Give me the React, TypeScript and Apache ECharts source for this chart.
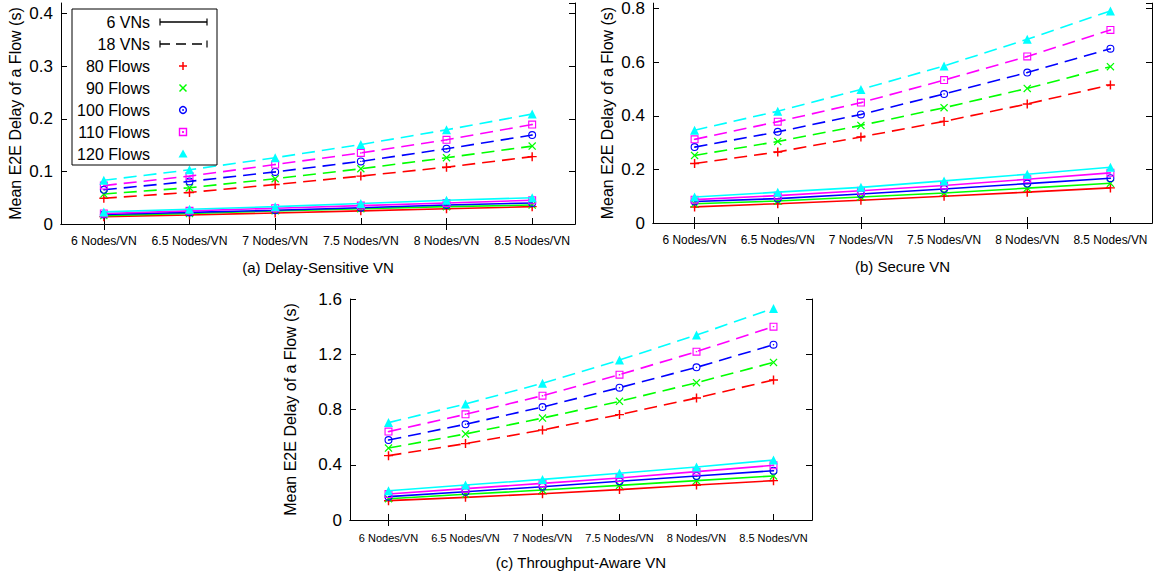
import React, { useEffect, useRef } from "react";
import * as echarts from "echarts";

const categories = ["6 Nodes/VN", "6.5 Nodes/VN", "7 Nodes/VN", "7.5 Nodes/VN", "8 Nodes/VN", "8.5 Nodes/VN"];
const flowNames = ["80 Flows", "90 Flows", "100 Flows", "110 Flows", "120 Flows"];
const vnNames = ["6 VNs", "18 VNs"];
const panelTitles = ["(a) Delay-Sensitive VN", "(b) Secure VN", "(c) Throughput-Aware VN"];
const yAxisTitle = "Mean E2E Delay of a Flow (s)";
const yMax = [0.42, 0.82, 1.6];
const yInterval = [0.1, 0.2, 0.4];

// (a) Delay-Sensitive VN
const delaySensitive6 = [
  [0.014, 0.017, 0.021, 0.025, 0.029, 0.033],
  [0.016, 0.020, 0.025, 0.029, 0.033, 0.036],
  [0.018, 0.022, 0.026, 0.031, 0.036, 0.040],
  [0.020, 0.025, 0.030, 0.035, 0.040, 0.045],
  [0.023, 0.028, 0.033, 0.039, 0.045, 0.050],
];
const delaySensitive18 = [
  [0.049, 0.060, 0.075, 0.091, 0.108, 0.128],
  [0.057, 0.069, 0.086, 0.105, 0.126, 0.148],
  [0.065, 0.081, 0.099, 0.119, 0.143, 0.169],
  [0.073, 0.091, 0.113, 0.135, 0.160, 0.189],
  [0.083, 0.103, 0.126, 0.151, 0.179, 0.209],
];
// (b) Secure VN
const secure6 = [
  [0.060, 0.072, 0.085, 0.100, 0.115, 0.131],
  [0.072, 0.082, 0.097, 0.112, 0.130, 0.148],
  [0.080, 0.091, 0.108, 0.127, 0.147, 0.167],
  [0.087, 0.102, 0.120, 0.140, 0.163, 0.187],
  [0.097, 0.115, 0.133, 0.157, 0.182, 0.208],
];
const secure18 = [
  [0.222, 0.265, 0.321, 0.379, 0.444, 0.515],
  [0.252, 0.304, 0.364, 0.430, 0.502, 0.583],
  [0.283, 0.340, 0.405, 0.481, 0.561, 0.650],
  [0.312, 0.378, 0.449, 0.533, 0.621, 0.720],
  [0.346, 0.417, 0.498, 0.586, 0.685, 0.791],
];
// (c) Throughput-Aware VN
const throughput6 = [
  [0.140, 0.164, 0.190, 0.220, 0.253, 0.285],
  [0.154, 0.186, 0.217, 0.251, 0.285, 0.319],
  [0.169, 0.205, 0.241, 0.280, 0.319, 0.357],
  [0.188, 0.227, 0.265, 0.304, 0.350, 0.396],
  [0.212, 0.253, 0.294, 0.338, 0.384, 0.434],
];
const throughput18 = [
  [0.466, 0.553, 0.652, 0.763, 0.883, 1.014],
  [0.521, 0.623, 0.738, 0.859, 0.994, 1.141],
  [0.579, 0.693, 0.818, 0.958, 1.105, 1.269],
  [0.640, 0.765, 0.900, 1.052, 1.219, 1.400],
  [0.705, 0.840, 0.990, 1.158, 1.339, 1.532],
];

const panels = [
  [delaySensitive6, delaySensitive18],
  [secure6, secure18],
  [throughput6, throughput18],
];

const colors = ["#ff0000", "#00ff00", "#0000ff", "#ff00ff", "#00ffff"];
const symbols = [
  "path://M4.2,0H5.8V4.2H10V5.8H5.8V10H4.2V5.8H0V4.2H4.2Z",
  "path://M1.1,0L5,3.9L8.9,0L10,1.1L6.1,5L10,8.9L8.9,10L5,6.1L1.1,10L0,8.9L3.9,5L0,1.1Z",
  "path://M5,0A5,5 0 1,1 5,10A5,5 0 1,1 5,0Z M5,1.4A3.6,3.6 0 1,0 5,8.6A3.6,3.6 0 1,0 5,1.4Z M5,4.1A0.9,0.9 0 1,1 5,5.9A0.9,0.9 0 1,1 5,4.1Z",
  "path://M0,0H10V10H0Z M1.4,1.4V8.6H8.6V1.4Z M4.1,4.1H5.9V5.9H4.1Z",
  "triangle",
];
const symbolSizes = [9, 8, 8, 8, 9];

const FONT = "'Liberation Sans', Arial, Helvetica, sans-serif";

const grids = [
  { left: 61, top: 3, width: 514, height: 221 },
  { left: 653, top: 3, width: 499, height: 220 },
  { left: 350, top: 299, width: 462, height: 221 },
];
const yNameGap = [38, 38, 52];
const xNameGap = [36, 36, 35];
const xLabelSize = [12.2, 11.9, 11];
const xLabelMargin = [11, 11, 12];

export default function App() {
  const ref = useRef<HTMLDivElement>(null);
  useEffect(() => {
    if (!ref.current) return;
    const chart = echarts.init(ref.current, null, { renderer: "svg" });

    const xAxes: any[] = [];
    const yAxes: any[] = [];
    for (let p = 0; p < 3; p++) {
      xAxes.push({
        type: "category",
        gridIndex: p,
        data: categories,
        boundaryGap: true,
        position: "bottom",
        name: panelTitles[p],
        nameLocation: "middle",
        nameGap: xNameGap[p],
        nameTextStyle: { fontFamily: FONT, fontSize: 15, color: "#000" },
        axisLine: { show: true, lineStyle: { color: "#000", width: 1 } },
        axisTick: { show: true, inside: true, alignWithLabel: true, length: 6, lineStyle: { color: "#000" } },
        axisLabel: { interval: 0, fontFamily: FONT, fontSize: xLabelSize[p], color: "#000", margin: xLabelMargin[p] },
        splitLine: { show: false },
      });
      yAxes.push({
        type: "value",
        gridIndex: p,
        min: 0,
        max: yMax[p],
        interval: yInterval[p],
        position: "left",
        name: yAxisTitle,
        nameLocation: "middle",
        nameGap: yNameGap[p],
        nameRotate: 90,
        nameTextStyle: { fontFamily: FONT, fontSize: 16, color: "#000" },
        axisLine: { show: true, lineStyle: { color: "#000", width: 1 } },
        axisTick: { show: true, inside: true, length: 6, lineStyle: { color: "#000" } },
        axisLabel: { fontFamily: FONT, fontSize: 17, color: "#000", margin: 8, showMaxLabel: p === 2 },
        splitLine: { show: false },
      });
    }
    for (let p = 0; p < 3; p++) {
      xAxes.push({
        type: "category",
        gridIndex: p,
        data: categories,
        boundaryGap: true,
        position: "top",
        axisLine: { show: true, lineStyle: { color: "#000", width: 1 } },
        axisTick: { show: true, inside: true, alignWithLabel: true, length: 6, lineStyle: { color: "#000" } },
        axisLabel: { show: false },
        splitLine: { show: false },
      });
      yAxes.push({
        type: "value",
        gridIndex: p,
        min: 0,
        max: yMax[p],
        interval: yInterval[p],
        position: "right",
        axisLine: { show: true, lineStyle: { color: "#000", width: 1 } },
        axisTick: { show: true, inside: true, length: 6, lineStyle: { color: "#000" } },
        axisLabel: { show: false },
        splitLine: { show: false },
      });
    }

    const series: any[] = [];
    for (let p = 0; p < 3; p++) {
      for (let v = 1; v >= 0; v--) {
        for (let f = 0; f < 5; f++) {
          series.push({
            type: "line",
            name: `${vnNames[v]} ${flowNames[f]}`,
            xAxisIndex: p,
            yAxisIndex: p,
            data: panels[p][v][f],
            symbol: symbols[f],
            symbolSize: symbolSizes[f],
            showSymbol: true,
            lineStyle: { color: colors[f], width: 1.6, type: v === 1 ? [13, 7] : "solid" },
            itemStyle: { color: colors[f], borderWidth: 0 },
            z: 2 + f,
          });
        }
      }
    }

    // Legend (drawn as graphic)
    const lx = 72, ly = 9, lw = 145, lh = 156;
    const rowY = [22, 44, 66, 88, 110, 132, 154];
    const textX = 150;
    const markX = 183;
    const legendEls: any[] = [
      { type: "rect", shape: { x: lx, y: ly, width: lw, height: lh }, style: { fill: "#fff", stroke: "#000", lineWidth: 1 }, z: 100 },
    ];
    const labels = [...vnNames, ...flowNames];
    labels.forEach((t, i) => {
      legendEls.push({
        type: "text",
        x: textX,
        y: rowY[i],
        style: { text: t, fontFamily: FONT, fontSize: 16, fill: "#000", align: "right", verticalAlign: "middle" },
        z: 101,
      });
    });
    for (let v = 0; v < 2; v++) {
      const y = rowY[v];
      legendEls.push({
        type: "line",
        shape: { x1: 160, y1: y, x2: 207, y2: y },
        style: { stroke: "#000", lineWidth: 1.5, lineDash: v === 1 ? [10, 6] : null },
        z: 101,
      });
      legendEls.push({ type: "line", shape: { x1: 160, y1: y - 3.5, x2: 160, y2: y + 3.5 }, style: { stroke: "#000", lineWidth: 1.2 }, z: 101 });
      legendEls.push({ type: "line", shape: { x1: 207, y1: y - 3.5, x2: 207, y2: y + 3.5 }, style: { stroke: "#000", lineWidth: 1.2 }, z: 101 });
    }
    // markers
    const cy = (i: number) => rowY[i + 2];
    legendEls.push({ type: "line", shape: { x1: markX - 4, y1: cy(0), x2: markX + 4, y2: cy(0) }, style: { stroke: colors[0], lineWidth: 1.5 }, z: 101 });
    legendEls.push({ type: "line", shape: { x1: markX, y1: cy(0) - 4, x2: markX, y2: cy(0) + 4 }, style: { stroke: colors[0], lineWidth: 1.5 }, z: 101 });
    legendEls.push({ type: "line", shape: { x1: markX - 3.5, y1: cy(1) - 3.5, x2: markX + 3.5, y2: cy(1) + 3.5 }, style: { stroke: colors[1], lineWidth: 1.5 }, z: 101 });
    legendEls.push({ type: "line", shape: { x1: markX - 3.5, y1: cy(1) + 3.5, x2: markX + 3.5, y2: cy(1) - 3.5 }, style: { stroke: colors[1], lineWidth: 1.5 }, z: 101 });
    legendEls.push({ type: "circle", shape: { cx: markX, cy: cy(2), r: 3.4 }, style: { fill: "none", stroke: colors[2], lineWidth: 1.4 }, z: 101 });
    legendEls.push({ type: "circle", shape: { cx: markX, cy: cy(2), r: 0.9 }, style: { fill: colors[2] }, z: 101 });
    legendEls.push({ type: "rect", shape: { x: markX - 3.5, y: cy(3) - 3.5, width: 7, height: 7 }, style: { fill: "none", stroke: colors[3], lineWidth: 1.4 }, z: 101 });
    legendEls.push({ type: "rect", shape: { x: markX - 0.9, y: cy(3) - 0.9, width: 1.8, height: 1.8 }, style: { fill: colors[3] }, z: 101 });
    legendEls.push({
      type: "polygon",
      shape: { points: [[markX, cy(4) - 4.5], [markX + 4.5, cy(4) + 3.5], [markX - 4.5, cy(4) + 3.5]] },
      style: { fill: colors[4] },
      z: 101,
    });

    chart.setOption({
      animation: false,
      backgroundColor: "#fff",
      textStyle: { fontFamily: FONT },
      grid: grids.map((g) => ({ ...g, show: false, containLabel: false })),
      xAxis: xAxes,
      yAxis: yAxes,
      series,
      graphic: legendEls,
    });
    return () => chart.dispose();
  }, []);

  return (
    <div
      ref={ref}
      style={{ position: "fixed", left: 0, top: 0, width: 1174, height: 577, background: "#fff" }}
    />
  );
}
